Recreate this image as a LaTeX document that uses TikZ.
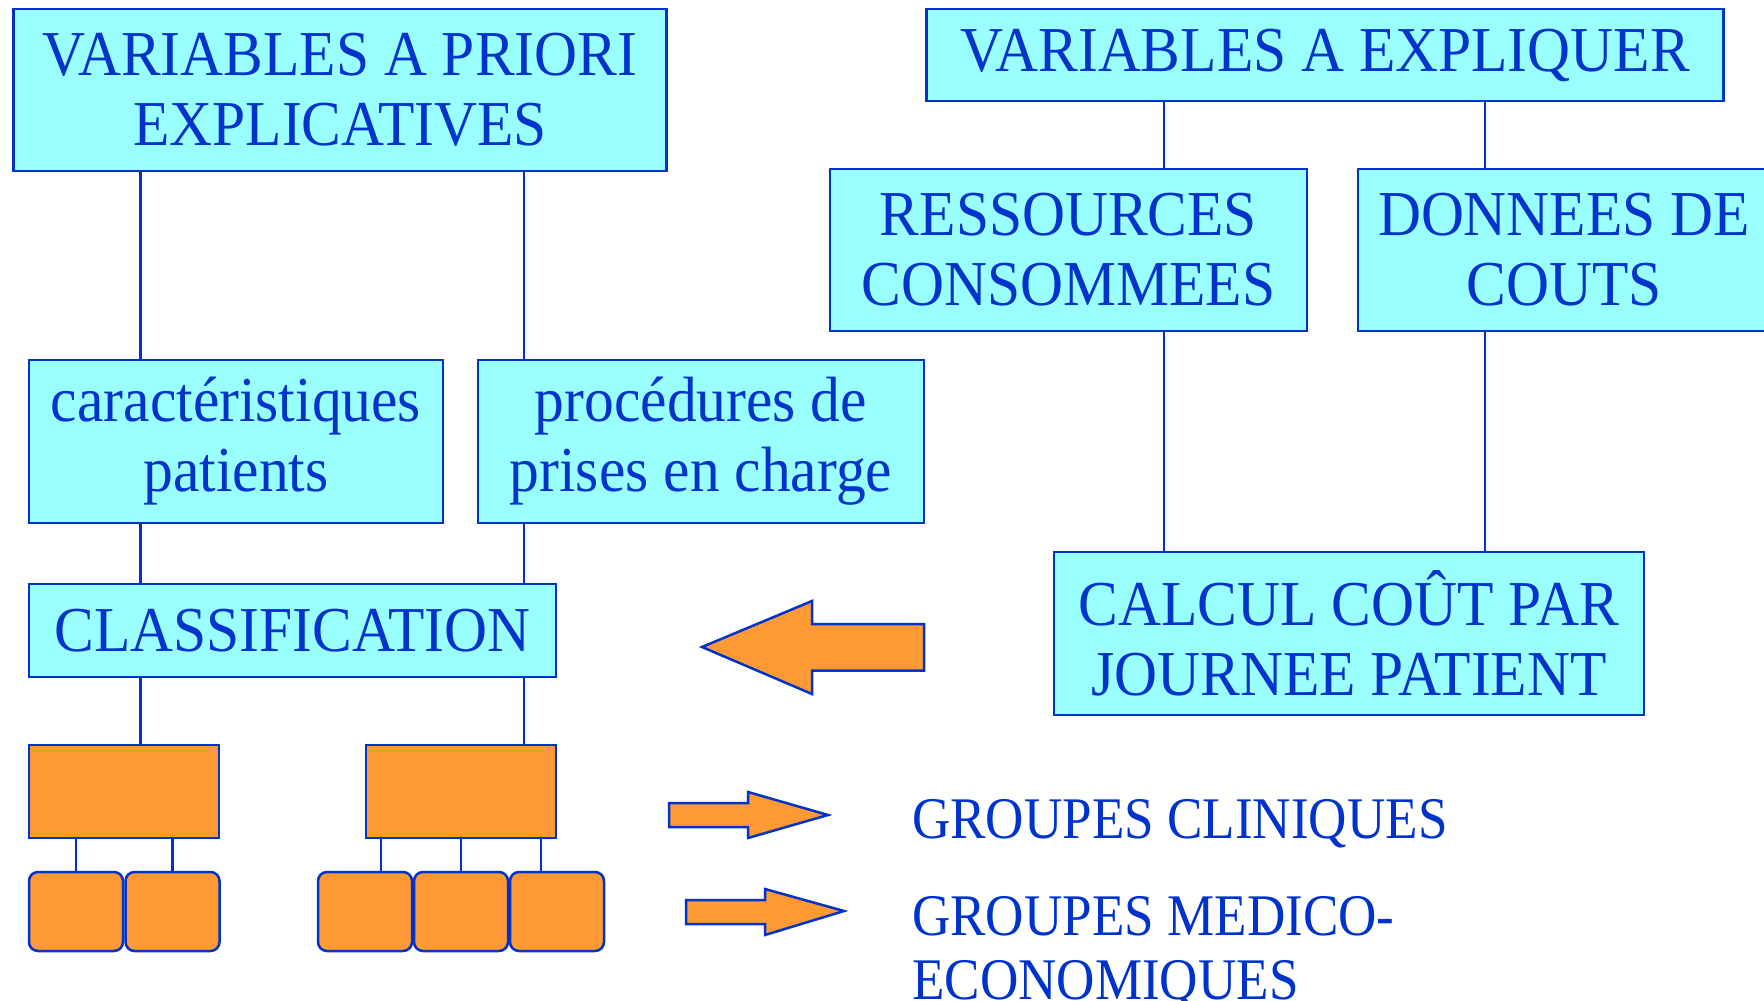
\documentclass[tikz,border=0pt]{standalone}
\usepackage{fontspec}
\setmainfont[FakeStretch=0.93]{Liberation Serif}
\newfontfamily\lblfont[FakeStretch=0.9]{Liberation Serif}
\definecolor{tblue}{HTML}{0033CC}
\definecolor{tcyan}{HTML}{99FFFF}
\definecolor{torange}{HTML}{FF9933}
\begin{document}
\begin{tikzpicture}[x=1pt,y=-1pt,
  cbox/.style={draw=tblue,line width=2.5pt,fill=tcyan,text=tblue,align=center,
    font=\fontsize{64}{70}\selectfont,inner sep=0pt},
  obox/.style={draw=tblue,line width=2.5pt,fill=torange,inner sep=0pt},
  rbox/.style={obox,rounded corners=9pt,minimum width=94pt,minimum height=79pt},
  conn/.style={draw=tblue,line width=2.5pt},
  bigarrow/.style={draw=tblue,line width=2.5pt,fill=torange,line join=miter},
  lbl/.style={text=tblue,font=\lblfont\fontsize{59}{64}\selectfont,inner sep=0pt,align=left}]
\useasboundingbox (0,0) rectangle (1764,1001);
\clip (0,0) rectangle (1764,1001);
\fill[white] (0,0) rectangle (1764,1001);
% boxes
\node[cbox,minimum width=653pt,minimum height=162pt] (vape) at (340,90) {VARIABLES A PRIORI\\EXPLICATIVES};
\node[cbox,minimum width=797pt,minimum height=92pt] (vae) at (1325,55) {VARIABLES A EXPLIQUER};
\node[cbox,minimum width=477pt,minimum height=162pt] (ress) at (1068.5,250) {RESSOURCES\\CONSOMMEES};
\node[cbox,minimum width=412pt,minimum height=162pt] (donn) at (1564,250) {DONNEES DE\\COUTS};
\node[cbox,minimum width=414pt,minimum height=163pt] (car) at (236,441.5) {caractéristiques\\patients};
\node[cbox,minimum width=446pt,minimum height=163pt] (proc) at (701,441.5) {procédures de\\prises en charge};
\node[cbox,minimum width=527pt,minimum height=93pt] (class) at (292.5,630.5) {CLASSIFICATION};
\node[cbox,minimum width=590pt,minimum height=163pt] (calc) at (1349,633.5) {CALCUL COÛT PAR\\JOURNEE PATIENT};
\node[obox,minimum width=190pt,minimum height=93pt] (o1) at (124,791.5) {};
\node[obox,minimum width=190pt,minimum height=93pt] (o2) at (461,791.5) {};
\node[rbox] (s1) at (76,911.5) {};
\node[rbox] (s2) at (172.5,911.5) {};
\node[rbox] (s3) at (365,911.5) {};
\node[rbox] (s4) at (461,911.5) {};
\node[rbox] (s5) at (557,911.5) {};
% connectors
\draw[conn] (vape.south -| 140.6,0) -- (car.north -| 140.6,0);
\draw[conn] (vape.south -| 524,0) -- (proc.north -| 524,0);
\draw[conn] (car.south -| 140.6,0) -- (class.north -| 140.6,0);
\draw[conn] (proc.south -| 524,0) -- (class.north -| 524,0);
\draw[conn] (class.south -| 140.6,0) -- (o1.north -| 140.6,0);
\draw[conn] (class.south -| 524,0) -- (o2.north -| 524,0);
\draw[conn] (o1.south -| s1.north) -- (s1.north);
\draw[conn] (o1.south -| s2.north) -- (s2.north);
\draw[conn] (o2.south -| 381,0) -- (s3.north -| 381,0);
\draw[conn] (o2.south -| 461,0) -- (s4.north -| 461,0);
\draw[conn] (o2.south -| 541,0) -- (s5.north -| 541,0);
\draw[conn] (vae.south -| 1164,0) -- (ress.north -| 1164,0);
\draw[conn] (vae.south -| 1485,0) -- (donn.north -| 1485,0);
\draw[conn] (ress.south -| 1164,0) -- (calc.north -| 1164,0);
\draw[conn] (donn.south -| 1485,0) -- (calc.north -| 1485,0);
% block arrows
\draw[bigarrow] (702,647) -- (812,601) -- (812,624) -- (924,624) -- (924,670.5) -- (812,670.5) -- (812,694) -- cycle;
\draw[bigarrow] (669,803) -- (748,803) -- (748,792) -- (828,815) -- (748,838) -- (748,827) -- (669,827) -- cycle;
\draw[bigarrow] (686,900) -- (765,900) -- (765,889) -- (844,911) -- (765,935) -- (765,924) -- (686,924) -- cycle;
% labels
\node[lbl,anchor=base west] (gc) at (912,838) {GROUPES CLINIQUES};
\node[lbl,anchor=base west] (gm) at (912,999) {GROUPES MEDICO-\\ECONOMIQUES};
\end{tikzpicture}
\end{document}
